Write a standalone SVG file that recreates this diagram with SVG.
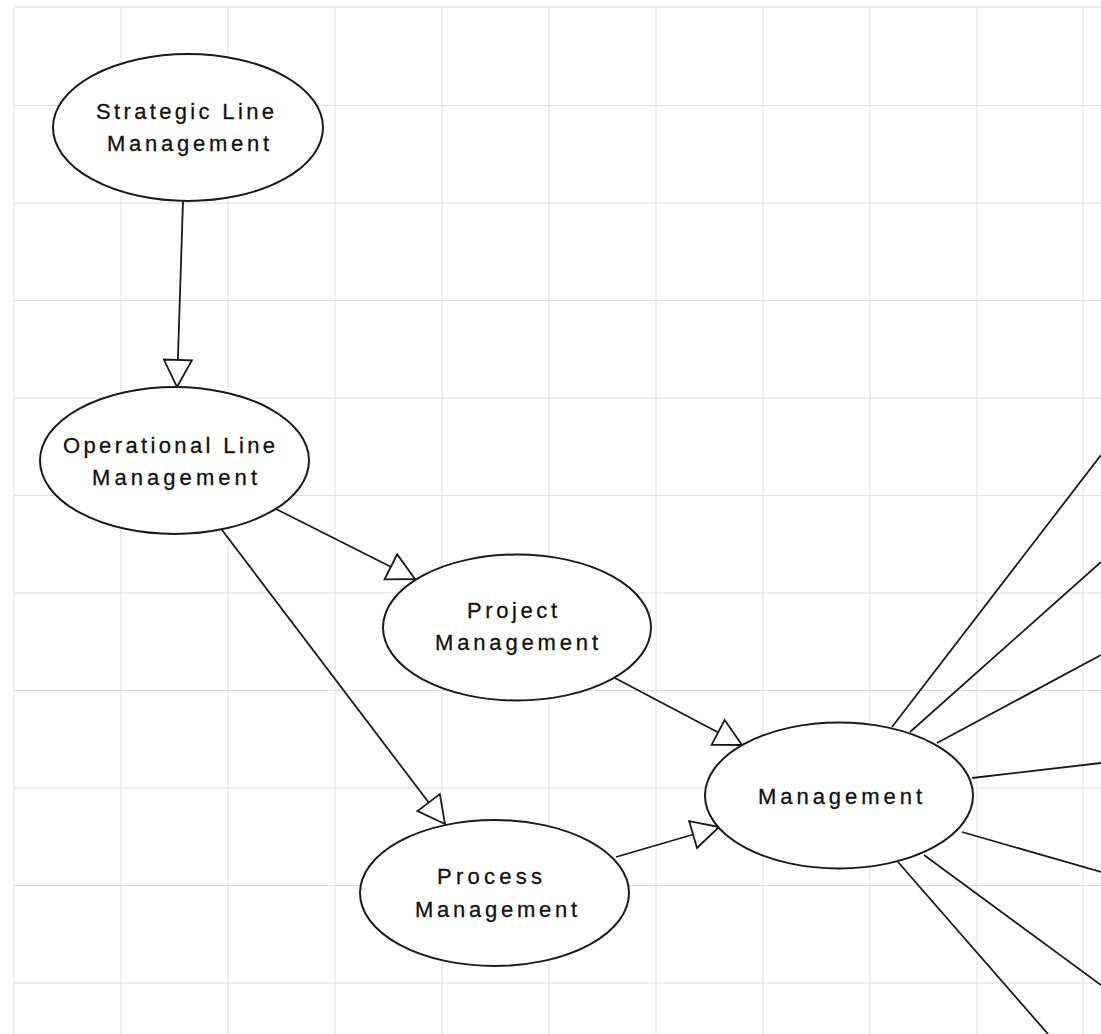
<svg xmlns="http://www.w3.org/2000/svg" width="1101" height="1034" viewBox="0 0 1101 1034">
  <style>
    .grid line { stroke: #dedede; stroke-width: 1; }
    .node ellipse { fill: #ffffff; stroke: #1a1a1a; stroke-width: 2; }
    .node text { font-family: "Liberation Sans", Arial, sans-serif; font-size: 22px; fill: #111111; stroke: #111111; stroke-width: 0.3; }
    .edges line { stroke: #1a1a1a; stroke-width: 1.8; fill: none; }
    .edges .arrow { marker-end: url(#openTri); }
  </style>
  <defs>
    <marker id="openTri" markerUnits="userSpaceOnUse" markerWidth="32" markerHeight="34" viewBox="-30 -16 32 32" refX="0" refY="0" orient="auto">
      <path d="M0,0 L-27,-14 L-27,14 Z" fill="#ffffff" stroke="#1a1a1a" stroke-width="1.8" stroke-linejoin="miter"/>
    </marker>
  </defs>

  <rect width="1101" height="1034" fill="#ffffff"/>

  <!-- background grid -->
  <g class="grid">
    <line x1="14" y1="7" x2="14" y2="1034"/>
    <line x1="121" y1="7" x2="121" y2="1034"/>
    <line x1="228" y1="7" x2="228" y2="1034"/>
    <line x1="335" y1="7" x2="335" y2="1034"/>
    <line x1="442" y1="7" x2="442" y2="1034"/>
    <line x1="549" y1="7" x2="549" y2="1034"/>
    <line x1="656" y1="7" x2="656" y2="1034"/>
    <line x1="763" y1="7" x2="763" y2="1034"/>
    <line x1="870" y1="7" x2="870" y2="1034"/>
    <line x1="977" y1="7" x2="977" y2="1034"/>
    <line x1="1083" y1="7" x2="1083" y2="1034"/>
    <line x1="14" y1="7" x2="1101" y2="7"/>
    <line x1="14" y1="105.5" x2="1101" y2="105.5"/>
    <line x1="14" y1="203" x2="1101" y2="203"/>
    <line x1="14" y1="300.5" x2="1101" y2="300.5"/>
    <line x1="14" y1="398" x2="1101" y2="398"/>
    <line x1="14" y1="495.5" x2="1101" y2="495.5"/>
    <line x1="14" y1="593" x2="1101" y2="593"/>
    <line x1="14" y1="690.5" x2="1101" y2="690.5"/>
    <line x1="14" y1="788" x2="1101" y2="788"/>
    <line x1="14" y1="885.5" x2="1101" y2="885.5"/>
    <line x1="14" y1="983" x2="1101" y2="983"/>
  </g>

  <!-- connectors -->
  <g class="edges">
    <line class="arrow" x1="183" y1="201" x2="177" y2="387"/>
    <line class="arrow" x1="276" y1="509" x2="415" y2="579"/>
    <line class="arrow" x1="222" y1="530" x2="445" y2="824"/>
    <line class="arrow" x1="613" y1="677" x2="742" y2="745"/>
    <line class="arrow" x1="616" y1="857" x2="719" y2="827"/>
    <line x1="892" y1="727" x2="1101" y2="455"/>
    <line x1="910" y1="732" x2="1101" y2="562"/>
    <line x1="937" y1="743" x2="1101" y2="655"/>
    <line x1="972" y1="778" x2="1101" y2="763"/>
    <line x1="962" y1="832" x2="1101" y2="872"/>
    <line x1="924" y1="855" x2="1101" y2="985"/>
    <line x1="898" y1="862" x2="1048" y2="1034"/>
  </g>

  <g id="strategic-line-management" class="node">
    <ellipse cx="188" cy="127.5" rx="135" ry="73.5"/>
    <text x="96" y="119" textLength="178" lengthAdjust="spacing">Strategic Line</text>
    <text x="107" y="151" textLength="162" lengthAdjust="spacing">Management</text>
  </g>

  <g id="operational-line-management" class="node">
    <ellipse cx="174.5" cy="460.5" rx="134.5" ry="73.5"/>
    <text x="63" y="453" textLength="212" lengthAdjust="spacing">Operational Line</text>
    <text x="92" y="485" textLength="165" lengthAdjust="spacing">Management</text>
  </g>

  <g id="project-management" class="node">
    <ellipse cx="517" cy="627.5" rx="134" ry="73"/>
    <text x="467" y="618" textLength="90" lengthAdjust="spacing">Project</text>
    <text x="435" y="650" textLength="163" lengthAdjust="spacing">Management</text>
  </g>

  <g id="process-management" class="node">
    <ellipse cx="494.5" cy="893" rx="134.5" ry="73"/>
    <text x="437" y="884" textLength="105" lengthAdjust="spacing">Process</text>
    <text x="415" y="917" textLength="162" lengthAdjust="spacing">Management</text>
  </g>

  <g id="management" class="node">
    <ellipse cx="839" cy="795.5" rx="134" ry="73"/>
    <text x="758" y="804" textLength="164" lengthAdjust="spacing">Management</text>
  </g>
</svg>
